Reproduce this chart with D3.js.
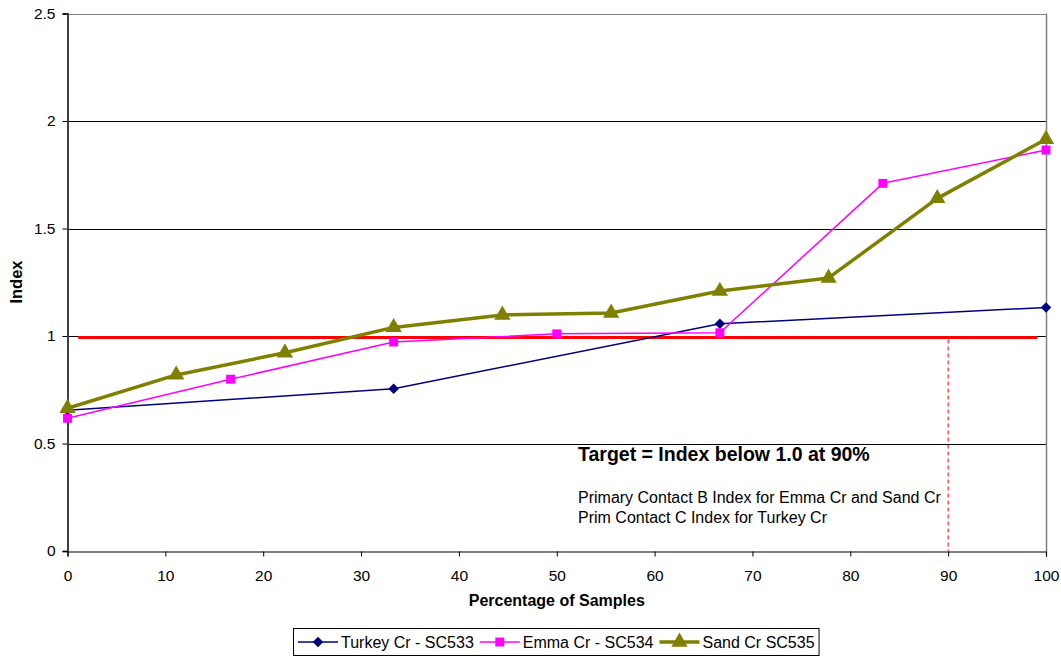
<!DOCTYPE html>
<html>
<head>
<meta charset="utf-8">
<script src="https://cdn.jsdelivr.net/npm/d3@7/dist/d3.min.js"></script>
<style>
  html, body { margin: 0; padding: 0; background: #fff; }
  svg { display: block; font-family: "Liberation Sans", Arial, sans-serif; }
</style>
</head>
<body>
<svg id="chart" width="1061" height="656"></svg>
<script>
// Sample percentiles and index values for each creek
const turkeyX = [0, 33.33, 66.67, 100];
const turkeyY = [0.655, 0.755, 1.057, 1.133];

const emmaX = [0, 16.67, 33.33, 50, 66.67, 83.33, 100];
const emmaY = [0.617, 0.799, 0.972, 1.01, 1.015, 1.71, 1.865];

const sandX = [0, 11.11, 22.22, 33.33, 44.44, 55.56, 66.67, 77.78, 88.89, 100];
const sandY = [0.664, 0.819, 0.922, 1.04, 1.098, 1.107, 1.209, 1.27, 1.64, 1.915];

const seriesNames = ["Turkey Cr - SC533", "Emma Cr - SC534", "Sand Cr SC535"];

// Target index line and the 90% marker
const targetX = [1.1, 99.1];
const targetY = [0.993, 0.993];
const targetPct = 90;

const xTicks = [0, 10, 20, 30, 40, 50, 60, 70, 80, 90, 100];
const yTicks = [0, 0.5, 1, 1.5, 2, 2.5];

const svg = d3.select("#chart");
const plotL = 67.5, plotR = 1046, plotT = 13.5, plotB = 551;

const x = d3.scaleLinear().domain([0, 100]).range([plotL, plotR]);
const y = d3.scaleLinear().domain([0, 2.5]).range([plotB, plotT]);

// Horizontal gridlines
svg.append("g").selectAll("line")
  .data(yTicks.filter(d => d > 0))
  .join("line")
  .attr("x1", plotL).attr("x2", plotR)
  .attr("y1", d => Math.round(y(d)) + 0.5).attr("y2", d => Math.round(y(d)) + 0.5)
  .attr("stroke", d => d === 2.5 ? "#808080" : "#000")
  .attr("stroke-width", 1);

// Right border of the plot area
svg.append("line")
  .attr("x1", plotR + 0.5).attr("x2", plotR + 0.5)
  .attr("y1", y(2.5)).attr("y2", plotB)
  .attr("stroke", "#808080").attr("stroke-width", 1.5);

// Y axis
const yAxis = d3.axisLeft(y).tickValues(yTicks).tickSize(5).tickPadding(7)
  .tickFormat(d3.format("~g"));
const gy = svg.append("g").attr("transform", `translate(${plotL},0)`).call(yAxis);
gy.select(".domain").attr("stroke", "#404040").attr("stroke-width", 2);
gy.selectAll(".tick line").attr("stroke", "#000");
gy.selectAll("text").attr("font-size", 15.5).attr("fill", "#000")
  .attr("font-family", "Liberation Sans, Arial, sans-serif");

// X axis
const xAxis = d3.axisBottom(x).tickValues(xTicks).tickSize(5).tickPadding(13)
  .tickFormat(d3.format("d"));
const gx = svg.append("g").attr("transform", `translate(0,${plotB + 0.5})`).call(xAxis);
gx.select(".domain").attr("stroke", "#000").attr("stroke-width", 1.2);
gx.selectAll(".tick line").attr("stroke", "#000");
gx.selectAll("text").attr("font-size", 15.5).attr("fill", "#000")
  .attr("font-family", "Liberation Sans, Arial, sans-serif");

// Axis titles
svg.append("text")
  .attr("x", (plotL + plotR) / 2).attr("y", 606)
  .attr("text-anchor", "middle").attr("font-size", 16).attr("font-weight", "bold")
  .text("Percentage of Samples");
svg.append("text")
  .attr("transform", "translate(22,282) rotate(-90)")
  .attr("text-anchor", "middle").attr("font-size", 16.5).attr("font-weight", "bold")
  .text("Index");

// Target line
const line = d3.line().x(d => x(d[0])).y(d => y(d[1]));
svg.append("path")
  .datum(d3.zip(targetX, targetY))
  .attr("d", line)
  .attr("fill", "none").attr("stroke", "#ff0000").attr("stroke-width", 3);

// 90% marker
svg.append("line")
  .attr("x1", x(targetPct)).attr("x2", x(targetPct))
  .attr("y1", y(targetY[0]) + 2).attr("y2", plotB)
  .attr("stroke", "#ff0000").attr("stroke-width", 1).attr("stroke-dasharray", "4,3");

// Series
const series = [
  { name: seriesNames[0], xs: turkeyX, ys: turkeyY, color: "#000080", width: 1.5, shape: d3.symbolDiamond2, size: 70 },
  { name: seriesNames[1], xs: emmaX, ys: emmaY, color: "#ff00ff", width: 1.5, shape: d3.symbolSquare, size: 80 },
  { name: seriesNames[2], xs: sandX, ys: sandY, color: "#808000", width: 3.5, shape: d3.symbolTriangle, size: 115 }
];

series.forEach(s => {
  const pts = d3.zip(s.xs, s.ys);
  svg.append("path").datum(pts).attr("d", line)
    .attr("fill", "none").attr("stroke", s.color).attr("stroke-width", s.width)
    .attr("stroke-linejoin", "round");
  svg.append("g").selectAll("path").data(pts).join("path")
    .attr("transform", d => `translate(${x(d[0])},${y(d[1])})`)
    .attr("d", d3.symbol().type(s.shape).size(s.size))
    .attr("fill", s.color);
});

// Annotations
svg.append("text").attr("x", 578).attr("y", 461)
  .attr("font-size", 19.5).attr("font-weight", "bold")
  .text("Target = Index below 1.0 at 90%");
svg.append("text").attr("x", 578).attr("y", 503)
  .attr("font-size", 16)
  .text("Primary Contact B Index for Emma Cr and Sand Cr");
svg.append("text").attr("x", 578).attr("y", 523)
  .attr("font-size", 16)
  .text("Prim Contact C Index for Turkey Cr");

// Legend
const legend = svg.append("g");
let cx = 0;
series.forEach(s => {
  const g = legend.append("g").attr("transform", `translate(${cx},0)`);
  g.append("line").attr("x1", 0).attr("x2", 40).attr("y1", 0).attr("y2", 0)
    .attr("stroke", s.color).attr("stroke-width", s.width);
  g.append("path").attr("transform", "translate(20,0)")
    .attr("d", d3.symbol().type(s.shape).size(s.size)).attr("fill", s.color);
  const t = g.append("text").attr("x", 43).attr("y", 6).attr("font-size", 16).text(s.name);
  cx += 43 + t.node().getComputedTextLength() + 6;
});
const legendW = cx - 6;
const lx = Math.round((plotL + plotR) / 2 - legendW / 2);
legend.attr("transform", `translate(${lx},642)`);
legend.insert("rect", ":first-child")
  .attr("x", -4.5).attr("y", -13.5)
  .attr("width", legendW + 9).attr("height", 27)
  .attr("fill", "#fff").attr("stroke", "#000").attr("stroke-width", 1);
</script>
</body>
</html>
